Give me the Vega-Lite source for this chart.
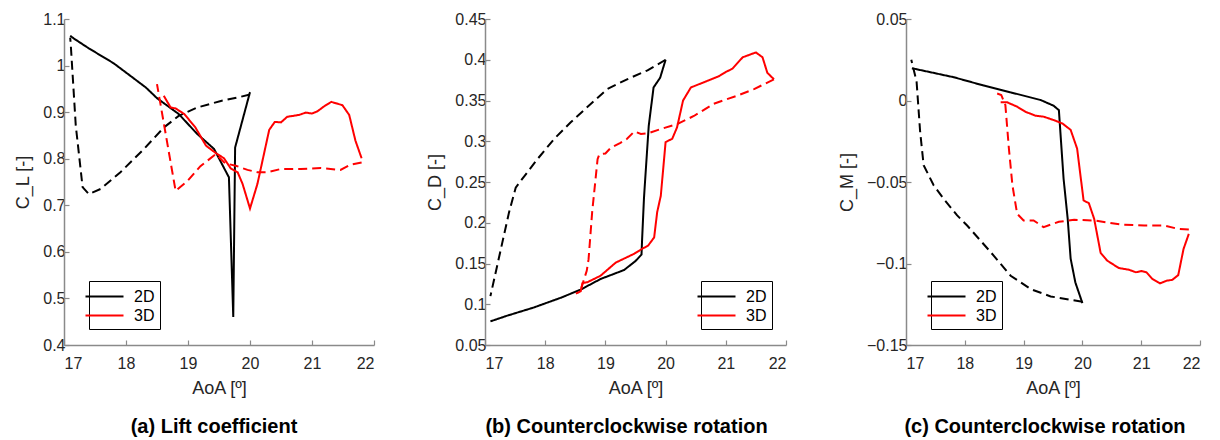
{
  "$schema": "https://vega.github.io/schema/vega-lite/v6.json",
  "background": "white",
  "padding": {"left": 14, "top": 11, "right": 5, "bottom": 0},
  "datasets": {
    "curves": [
      {"panel":"a","model":"2D","phase":"upstroke","idx":0,"aoa":17.1,"coef":1.064},
      {"panel":"a","model":"2D","phase":"upstroke","idx":1,"aoa":17.16,"coef":1.058},
      {"panel":"a","model":"2D","phase":"upstroke","idx":2,"aoa":17.4,"coef":1.037},
      {"panel":"a","model":"2D","phase":"upstroke","idx":3,"aoa":17.8,"coef":1.005},
      {"panel":"a","model":"2D","phase":"upstroke","idx":4,"aoa":18.05,"coef":0.98},
      {"panel":"a","model":"2D","phase":"upstroke","idx":5,"aoa":18.32,"coef":0.953},
      {"panel":"a","model":"2D","phase":"upstroke","idx":6,"aoa":18.5,"coef":0.93},
      {"panel":"a","model":"2D","phase":"upstroke","idx":7,"aoa":18.85,"coef":0.896},
      {"panel":"a","model":"2D","phase":"upstroke","idx":8,"aoa":19.15,"coef":0.853},
      {"panel":"a","model":"2D","phase":"upstroke","idx":9,"aoa":19.42,"coef":0.821},
      {"panel":"a","model":"2D","phase":"upstroke","idx":10,"aoa":19.66,"coef":0.76},
      {"panel":"a","model":"2D","phase":"upstroke","idx":11,"aoa":19.73,"coef":0.46},
      {"panel":"a","model":"2D","phase":"upstroke","idx":12,"aoa":19.76,"coef":0.824},
      {"panel":"a","model":"2D","phase":"upstroke","idx":13,"aoa":20.0,"coef":0.943},

      {"panel":"a","model":"2D","phase":"downstroke","idx":0,"aoa":20.0,"coef":0.938},
      {"panel":"a","model":"2D","phase":"downstroke","idx":1,"aoa":19.85,"coef":0.933},
      {"panel":"a","model":"2D","phase":"downstroke","idx":2,"aoa":19.53,"coef":0.924},
      {"panel":"a","model":"2D","phase":"downstroke","idx":3,"aoa":19.15,"coef":0.91},
      {"panel":"a","model":"2D","phase":"downstroke","idx":4,"aoa":18.85,"coef":0.892},
      {"panel":"a","model":"2D","phase":"downstroke","idx":5,"aoa":18.61,"coef":0.867},
      {"panel":"a","model":"2D","phase":"downstroke","idx":6,"aoa":18.29,"coef":0.821},
      {"panel":"a","model":"2D","phase":"downstroke","idx":7,"aoa":17.91,"coef":0.771},
      {"panel":"a","model":"2D","phase":"downstroke","idx":8,"aoa":17.59,"coef":0.735},
      {"panel":"a","model":"2D","phase":"downstroke","idx":9,"aoa":17.4,"coef":0.724},
      {"panel":"a","model":"2D","phase":"downstroke","idx":10,"aoa":17.3,"coef":0.739},
      {"panel":"a","model":"2D","phase":"downstroke","idx":11,"aoa":17.19,"coef":0.871},
      {"panel":"a","model":"2D","phase":"downstroke","idx":12,"aoa":17.11,"coef":1.043},
      {"panel":"a","model":"2D","phase":"downstroke","idx":13,"aoa":17.1,"coef":1.06},

      {"panel":"a","model":"3D","phase":"upstroke","idx":0,"aoa":18.61,"coef":0.935},
      {"panel":"a","model":"3D","phase":"upstroke","idx":1,"aoa":18.72,"coef":0.91},
      {"panel":"a","model":"3D","phase":"upstroke","idx":2,"aoa":18.8,"coef":0.908},
      {"panel":"a","model":"3D","phase":"upstroke","idx":3,"aoa":18.94,"coef":0.896},
      {"panel":"a","model":"3D","phase":"upstroke","idx":4,"aoa":19.12,"coef":0.867},
      {"panel":"a","model":"3D","phase":"upstroke","idx":5,"aoa":19.29,"coef":0.828},
      {"panel":"a","model":"3D","phase":"upstroke","idx":6,"aoa":19.45,"coef":0.812},
      {"panel":"a","model":"3D","phase":"upstroke","idx":7,"aoa":19.58,"coef":0.801},
      {"panel":"a","model":"3D","phase":"upstroke","idx":8,"aoa":19.69,"coef":0.779},
      {"panel":"a","model":"3D","phase":"upstroke","idx":9,"aoa":19.8,"coef":0.771},
      {"panel":"a","model":"3D","phase":"upstroke","idx":10,"aoa":19.88,"coef":0.746},
      {"panel":"a","model":"3D","phase":"upstroke","idx":11,"aoa":20.0,"coef":0.693},
      {"panel":"a","model":"3D","phase":"upstroke","idx":12,"aoa":20.12,"coef":0.746},
      {"panel":"a","model":"3D","phase":"upstroke","idx":13,"aoa":20.31,"coef":0.862},
      {"panel":"a","model":"3D","phase":"upstroke","idx":14,"aoa":20.4,"coef":0.879},
      {"panel":"a","model":"3D","phase":"upstroke","idx":15,"aoa":20.5,"coef":0.878},
      {"panel":"a","model":"3D","phase":"upstroke","idx":16,"aoa":20.6,"coef":0.89},
      {"panel":"a","model":"3D","phase":"upstroke","idx":17,"aoa":20.79,"coef":0.894},
      {"panel":"a","model":"3D","phase":"upstroke","idx":18,"aoa":20.9,"coef":0.899},
      {"panel":"a","model":"3D","phase":"upstroke","idx":19,"aoa":21.0,"coef":0.897},
      {"panel":"a","model":"3D","phase":"upstroke","idx":20,"aoa":21.09,"coef":0.902},
      {"panel":"a","model":"3D","phase":"upstroke","idx":21,"aoa":21.19,"coef":0.912},
      {"panel":"a","model":"3D","phase":"upstroke","idx":22,"aoa":21.31,"coef":0.922},
      {"panel":"a","model":"3D","phase":"upstroke","idx":23,"aoa":21.49,"coef":0.915},
      {"panel":"a","model":"3D","phase":"upstroke","idx":24,"aoa":21.6,"coef":0.894},
      {"panel":"a","model":"3D","phase":"upstroke","idx":25,"aoa":21.7,"coef":0.839},
      {"panel":"a","model":"3D","phase":"upstroke","idx":26,"aoa":21.8,"coef":0.801},

      {"panel":"a","model":"3D","phase":"downstroke","idx":0,"aoa":21.8,"coef":0.792},
      {"panel":"a","model":"3D","phase":"downstroke","idx":1,"aoa":21.62,"coef":0.787},
      {"panel":"a","model":"3D","phase":"downstroke","idx":2,"aoa":21.46,"coef":0.776},
      {"panel":"a","model":"3D","phase":"downstroke","idx":3,"aoa":21.14,"coef":0.78},
      {"panel":"a","model":"3D","phase":"downstroke","idx":4,"aoa":20.82,"coef":0.778},
      {"panel":"a","model":"3D","phase":"downstroke","idx":5,"aoa":20.5,"coef":0.778},
      {"panel":"a","model":"3D","phase":"downstroke","idx":6,"aoa":20.28,"coef":0.771},
      {"panel":"a","model":"3D","phase":"downstroke","idx":7,"aoa":20.12,"coef":0.771},
      {"panel":"a","model":"3D","phase":"downstroke","idx":8,"aoa":19.96,"coef":0.776},
      {"panel":"a","model":"3D","phase":"downstroke","idx":9,"aoa":19.77,"coef":0.785},
      {"panel":"a","model":"3D","phase":"downstroke","idx":10,"aoa":19.6,"coef":0.79},
      {"panel":"a","model":"3D","phase":"downstroke","idx":11,"aoa":19.45,"coef":0.81},
      {"panel":"a","model":"3D","phase":"downstroke","idx":12,"aoa":19.2,"coef":0.784},
      {"panel":"a","model":"3D","phase":"downstroke","idx":13,"aoa":18.99,"coef":0.752},
      {"panel":"a","model":"3D","phase":"downstroke","idx":14,"aoa":18.8,"coef":0.731},
      {"panel":"a","model":"3D","phase":"downstroke","idx":15,"aoa":18.5,"coef":0.96},

      {"panel":"b","model":"2D","phase":"upstroke","idx":0,"aoa":17.09,"coef":0.079},
      {"panel":"b","model":"2D","phase":"upstroke","idx":1,"aoa":17.37,"coef":0.086},
      {"panel":"b","model":"2D","phase":"upstroke","idx":2,"aoa":17.81,"coef":0.096},
      {"panel":"b","model":"2D","phase":"upstroke","idx":3,"aoa":18.26,"coef":0.108},
      {"panel":"b","model":"2D","phase":"upstroke","idx":4,"aoa":18.59,"coef":0.118},
      {"panel":"b","model":"2D","phase":"upstroke","idx":5,"aoa":18.92,"coef":0.131},
      {"panel":"b","model":"2D","phase":"upstroke","idx":6,"aoa":19.31,"coef":0.142},
      {"panel":"b","model":"2D","phase":"upstroke","idx":7,"aoa":19.5,"coef":0.153},
      {"panel":"b","model":"2D","phase":"upstroke","idx":8,"aoa":19.6,"coef":0.161},
      {"panel":"b","model":"2D","phase":"upstroke","idx":9,"aoa":19.61,"coef":0.18},
      {"panel":"b","model":"2D","phase":"upstroke","idx":10,"aoa":19.64,"coef":0.229},
      {"panel":"b","model":"2D","phase":"upstroke","idx":11,"aoa":19.65,"coef":0.241},
      {"panel":"b","model":"2D","phase":"upstroke","idx":12,"aoa":19.72,"coef":0.319},
      {"panel":"b","model":"2D","phase":"upstroke","idx":13,"aoa":19.8,"coef":0.366},
      {"panel":"b","model":"2D","phase":"upstroke","idx":14,"aoa":19.91,"coef":0.378},
      {"panel":"b","model":"2D","phase":"upstroke","idx":15,"aoa":20.0,"coef":0.4},

      {"panel":"b","model":"2D","phase":"downstroke","idx":0,"aoa":20.0,"coef":0.4},
      {"panel":"b","model":"2D","phase":"downstroke","idx":1,"aoa":19.7,"coef":0.387},
      {"panel":"b","model":"2D","phase":"downstroke","idx":2,"aoa":19.36,"coef":0.376},
      {"panel":"b","model":"2D","phase":"downstroke","idx":3,"aoa":19.03,"coef":0.364},
      {"panel":"b","model":"2D","phase":"downstroke","idx":4,"aoa":18.76,"coef":0.346},
      {"panel":"b","model":"2D","phase":"downstroke","idx":5,"aoa":18.42,"coef":0.323},
      {"panel":"b","model":"2D","phase":"downstroke","idx":6,"aoa":18.15,"coef":0.303},
      {"panel":"b","model":"2D","phase":"downstroke","idx":7,"aoa":17.87,"coef":0.278},
      {"panel":"b","model":"2D","phase":"downstroke","idx":8,"aoa":17.59,"coef":0.251},
      {"panel":"b","model":"2D","phase":"downstroke","idx":9,"aoa":17.51,"coef":0.243},
      {"panel":"b","model":"2D","phase":"downstroke","idx":10,"aoa":17.4,"coef":0.213},
      {"panel":"b","model":"2D","phase":"downstroke","idx":11,"aoa":17.09,"coef":0.11},

      {"panel":"b","model":"3D","phase":"upstroke","idx":0,"aoa":18.51,"coef":0.113},
      {"panel":"b","model":"3D","phase":"upstroke","idx":1,"aoa":18.59,"coef":0.116},
      {"panel":"b","model":"3D","phase":"upstroke","idx":2,"aoa":18.62,"coef":0.126},
      {"panel":"b","model":"3D","phase":"upstroke","idx":3,"aoa":18.7,"coef":0.127},
      {"panel":"b","model":"3D","phase":"upstroke","idx":4,"aoa":18.92,"coef":0.135},
      {"panel":"b","model":"3D","phase":"upstroke","idx":5,"aoa":19.17,"coef":0.151},
      {"panel":"b","model":"3D","phase":"upstroke","idx":6,"aoa":19.31,"coef":0.156},
      {"panel":"b","model":"3D","phase":"upstroke","idx":7,"aoa":19.48,"coef":0.162},
      {"panel":"b","model":"3D","phase":"upstroke","idx":8,"aoa":19.61,"coef":0.168},
      {"panel":"b","model":"3D","phase":"upstroke","idx":9,"aoa":19.71,"coef":0.172},
      {"panel":"b","model":"3D","phase":"upstroke","idx":10,"aoa":19.81,"coef":0.182},
      {"panel":"b","model":"3D","phase":"upstroke","idx":11,"aoa":19.86,"coef":0.213},
      {"panel":"b","model":"3D","phase":"upstroke","idx":12,"aoa":19.92,"coef":0.233},
      {"panel":"b","model":"3D","phase":"upstroke","idx":13,"aoa":20.0,"coef":0.299},
      {"panel":"b","model":"3D","phase":"upstroke","idx":14,"aoa":20.11,"coef":0.303},
      {"panel":"b","model":"3D","phase":"upstroke","idx":15,"aoa":20.19,"coef":0.317},
      {"panel":"b","model":"3D","phase":"upstroke","idx":16,"aoa":20.29,"coef":0.35},
      {"panel":"b","model":"3D","phase":"upstroke","idx":17,"aoa":20.42,"coef":0.366},
      {"panel":"b","model":"3D","phase":"upstroke","idx":18,"aoa":20.69,"coef":0.374},
      {"panel":"b","model":"3D","phase":"upstroke","idx":19,"aoa":20.89,"coef":0.38},
      {"panel":"b","model":"3D","phase":"upstroke","idx":20,"aoa":21.0,"coef":0.385},
      {"panel":"b","model":"3D","phase":"upstroke","idx":21,"aoa":21.11,"coef":0.389},
      {"panel":"b","model":"3D","phase":"upstroke","idx":22,"aoa":21.28,"coef":0.403},
      {"panel":"b","model":"3D","phase":"upstroke","idx":23,"aoa":21.5,"coef":0.409},
      {"panel":"b","model":"3D","phase":"upstroke","idx":24,"aoa":21.61,"coef":0.403},
      {"panel":"b","model":"3D","phase":"upstroke","idx":25,"aoa":21.69,"coef":0.384},
      {"panel":"b","model":"3D","phase":"upstroke","idx":26,"aoa":21.8,"coef":0.376},

      {"panel":"b","model":"3D","phase":"downstroke","idx":0,"aoa":21.8,"coef":0.376},
      {"panel":"b","model":"3D","phase":"downstroke","idx":1,"aoa":21.47,"coef":0.364},
      {"panel":"b","model":"3D","phase":"downstroke","idx":2,"aoa":21.19,"coef":0.356},
      {"panel":"b","model":"3D","phase":"downstroke","idx":3,"aoa":20.8,"coef":0.346},
      {"panel":"b","model":"3D","phase":"downstroke","idx":4,"aoa":20.47,"coef":0.331},
      {"panel":"b","model":"3D","phase":"downstroke","idx":5,"aoa":20.19,"coef":0.321},
      {"panel":"b","model":"3D","phase":"downstroke","idx":6,"aoa":19.92,"coef":0.315},
      {"panel":"b","model":"3D","phase":"downstroke","idx":7,"aoa":19.72,"coef":0.31},
      {"panel":"b","model":"3D","phase":"downstroke","idx":8,"aoa":19.59,"coef":0.309},
      {"panel":"b","model":"3D","phase":"downstroke","idx":9,"aoa":19.48,"coef":0.312},
      {"panel":"b","model":"3D","phase":"downstroke","idx":10,"aoa":19.36,"coef":0.303},
      {"panel":"b","model":"3D","phase":"downstroke","idx":11,"aoa":19.25,"coef":0.298},
      {"panel":"b","model":"3D","phase":"downstroke","idx":12,"aoa":19.09,"coef":0.292},
      {"panel":"b","model":"3D","phase":"downstroke","idx":13,"aoa":19.0,"coef":0.285},
      {"panel":"b","model":"3D","phase":"downstroke","idx":14,"aoa":18.9,"coef":0.284},
      {"panel":"b","model":"3D","phase":"downstroke","idx":15,"aoa":18.87,"coef":0.278},
      {"panel":"b","model":"3D","phase":"downstroke","idx":16,"aoa":18.78,"coef":0.213},
      {"panel":"b","model":"3D","phase":"downstroke","idx":17,"aoa":18.72,"coef":0.155},
      {"panel":"b","model":"3D","phase":"downstroke","idx":18,"aoa":18.69,"coef":0.141},
      {"panel":"b","model":"3D","phase":"downstroke","idx":19,"aoa":18.6,"coef":0.12},

      {"panel":"c","model":"2D","phase":"upstroke","idx":0,"aoa":17.1,"coef":0.0198},
      {"panel":"c","model":"2D","phase":"upstroke","idx":1,"aoa":17.81,"coef":0.0143},
      {"panel":"c","model":"2D","phase":"upstroke","idx":2,"aoa":18.32,"coef":0.0092},
      {"panel":"c","model":"2D","phase":"upstroke","idx":3,"aoa":18.78,"coef":0.005},
      {"panel":"c","model":"2D","phase":"upstroke","idx":4,"aoa":19.29,"coef":0.0003},
      {"panel":"c","model":"2D","phase":"upstroke","idx":5,"aoa":19.51,"coef":-0.0032},
      {"panel":"c","model":"2D","phase":"upstroke","idx":6,"aoa":19.6,"coef":-0.0059},
      {"panel":"c","model":"2D","phase":"upstroke","idx":7,"aoa":19.68,"coef":-0.048},
      {"panel":"c","model":"2D","phase":"upstroke","idx":8,"aoa":19.75,"coef":-0.0726},
      {"panel":"c","model":"2D","phase":"upstroke","idx":9,"aoa":19.8,"coef":-0.097},
      {"panel":"c","model":"2D","phase":"upstroke","idx":10,"aoa":19.88,"coef":-0.1116},
      {"panel":"c","model":"2D","phase":"upstroke","idx":11,"aoa":20.0,"coef":-0.1243},

      {"panel":"c","model":"2D","phase":"downstroke","idx":0,"aoa":20.0,"coef":-0.1235},
      {"panel":"c","model":"2D","phase":"downstroke","idx":1,"aoa":19.46,"coef":-0.1202},
      {"panel":"c","model":"2D","phase":"downstroke","idx":2,"aoa":19.12,"coef":-0.1157},
      {"panel":"c","model":"2D","phase":"downstroke","idx":3,"aoa":18.78,"coef":-0.1075},
      {"panel":"c","model":"2D","phase":"downstroke","idx":4,"aoa":18.44,"coef":-0.093},
      {"panel":"c","model":"2D","phase":"downstroke","idx":5,"aoa":18.04,"coef":-0.0767},
      {"panel":"c","model":"2D","phase":"downstroke","idx":6,"aoa":17.87,"coef":-0.0705},
      {"panel":"c","model":"2D","phase":"downstroke","idx":7,"aoa":17.64,"coef":-0.0603},
      {"panel":"c","model":"2D","phase":"downstroke","idx":8,"aoa":17.47,"coef":-0.052},
      {"panel":"c","model":"2D","phase":"downstroke","idx":9,"aoa":17.3,"coef":-0.0397},
      {"panel":"c","model":"2D","phase":"downstroke","idx":10,"aoa":17.24,"coef":-0.019},
      {"panel":"c","model":"2D","phase":"downstroke","idx":11,"aoa":17.18,"coef":0.0116},
      {"panel":"c","model":"2D","phase":"downstroke","idx":12,"aoa":17.09,"coef":0.025},

      {"panel":"c","model":"3D","phase":"upstroke","idx":0,"aoa":18.61,"coef":-0.0011},
      {"panel":"c","model":"3D","phase":"upstroke","idx":1,"aoa":18.72,"coef":-0.0011},
      {"panel":"c","model":"3D","phase":"upstroke","idx":2,"aoa":18.89,"coef":-0.0038},
      {"panel":"c","model":"3D","phase":"upstroke","idx":3,"aoa":19.03,"coef":-0.0069},
      {"panel":"c","model":"3D","phase":"upstroke","idx":4,"aoa":19.2,"coef":-0.0093},
      {"panel":"c","model":"3D","phase":"upstroke","idx":5,"aoa":19.34,"coef":-0.0099},
      {"panel":"c","model":"3D","phase":"upstroke","idx":6,"aoa":19.51,"coef":-0.012},
      {"panel":"c","model":"3D","phase":"upstroke","idx":7,"aoa":19.66,"coef":-0.0141},
      {"panel":"c","model":"3D","phase":"upstroke","idx":8,"aoa":19.8,"coef":-0.018},
      {"panel":"c","model":"3D","phase":"upstroke","idx":9,"aoa":19.91,"coef":-0.0295},
      {"panel":"c","model":"3D","phase":"upstroke","idx":10,"aoa":20.02,"coef":-0.0613},
      {"panel":"c","model":"3D","phase":"upstroke","idx":11,"aoa":20.11,"coef":-0.063},
      {"panel":"c","model":"3D","phase":"upstroke","idx":12,"aoa":20.2,"coef":-0.0726},
      {"panel":"c","model":"3D","phase":"upstroke","idx":13,"aoa":20.31,"coef":-0.0935},
      {"panel":"c","model":"3D","phase":"upstroke","idx":14,"aoa":20.42,"coef":-0.0982},
      {"panel":"c","model":"3D","phase":"upstroke","idx":15,"aoa":20.62,"coef":-0.1028},
      {"panel":"c","model":"3D","phase":"upstroke","idx":16,"aoa":20.79,"coef":-0.1038},
      {"panel":"c","model":"3D","phase":"upstroke","idx":17,"aoa":20.91,"coef":-0.1054},
      {"panel":"c","model":"3D","phase":"upstroke","idx":18,"aoa":21.0,"coef":-0.1046},
      {"panel":"c","model":"3D","phase":"upstroke","idx":19,"aoa":21.09,"coef":-0.1054},
      {"panel":"c","model":"3D","phase":"upstroke","idx":20,"aoa":21.19,"coef":-0.1095},
      {"panel":"c","model":"3D","phase":"upstroke","idx":21,"aoa":21.32,"coef":-0.1122},
      {"panel":"c","model":"3D","phase":"upstroke","idx":22,"aoa":21.43,"coef":-0.1106},
      {"panel":"c","model":"3D","phase":"upstroke","idx":23,"aoa":21.53,"coef":-0.11},
      {"panel":"c","model":"3D","phase":"upstroke","idx":24,"aoa":21.63,"coef":-0.1071},
      {"panel":"c","model":"3D","phase":"upstroke","idx":25,"aoa":21.72,"coef":-0.0911},
      {"panel":"c","model":"3D","phase":"upstroke","idx":26,"aoa":21.81,"coef":-0.0818},

      {"panel":"c","model":"3D","phase":"downstroke","idx":0,"aoa":21.81,"coef":-0.0792},
      {"panel":"c","model":"3D","phase":"downstroke","idx":1,"aoa":21.62,"coef":-0.0787},
      {"panel":"c","model":"3D","phase":"downstroke","idx":2,"aoa":21.39,"coef":-0.0767},
      {"panel":"c","model":"3D","phase":"downstroke","idx":3,"aoa":21.05,"coef":-0.0767},
      {"panel":"c","model":"3D","phase":"downstroke","idx":4,"aoa":20.65,"coef":-0.0761},
      {"panel":"c","model":"3D","phase":"downstroke","idx":5,"aoa":20.2,"coef":-0.0736},
      {"panel":"c","model":"3D","phase":"downstroke","idx":6,"aoa":19.86,"coef":-0.0732},
      {"panel":"c","model":"3D","phase":"downstroke","idx":7,"aoa":19.6,"coef":-0.0744},
      {"panel":"c","model":"3D","phase":"downstroke","idx":8,"aoa":19.34,"coef":-0.0777},
      {"panel":"c","model":"3D","phase":"downstroke","idx":9,"aoa":19.17,"coef":-0.0736},
      {"panel":"c","model":"3D","phase":"downstroke","idx":10,"aoa":19.0,"coef":-0.0736},
      {"panel":"c","model":"3D","phase":"downstroke","idx":11,"aoa":18.89,"coef":-0.0695},
      {"panel":"c","model":"3D","phase":"downstroke","idx":12,"aoa":18.81,"coef":-0.052},
      {"panel":"c","model":"3D","phase":"downstroke","idx":13,"aoa":18.75,"coef":-0.0295},
      {"panel":"c","model":"3D","phase":"downstroke","idx":14,"aoa":18.69,"coef":-0.0028},
      {"panel":"c","model":"3D","phase":"downstroke","idx":15,"aoa":18.62,"coef":0.0034},
      {"panel":"c","model":"3D","phase":"downstroke","idx":16,"aoa":18.49,"coef":0.005}
    ]
  },
  "config": {
    "view": {"stroke": null},
    "font": "Liberation Sans",
    "axis": {
      "labelFont": "Liberation Sans", "titleFont": "Liberation Sans",
      "labelFontSize": 16, "titleFontSize": 18, "titleFontWeight": "normal",
      "labelColor": "#262626", "titleColor": "#262626",
      "domainColor": "#8a8a8a", "tickColor": "#8a8a8a", "domainWidth": 1.5,
      "grid": false, "tickSize": -5, "tickWidth": 1.2
    },
    "axisX": {"labelPadding": 15, "titlePadding": 8},
    "axisY": {"labelPadding": 4, "titlePadding": 10},
    "legend": {
      "orient": "none", "title": null,
      "symbolType": "M-2,0H2", "symbolSize": 361, "symbolStrokeWidth": 2,
      "labelFont": "Liberation Sans", "labelFontSize": 16, "labelColor": "#000000",
      "strokeColor": "#000000", "fillColor": "#ffffff", "padding": 5, "rowPadding": 0,
      "labelOffset": 19
    },
    "title": {"font": "Liberation Sans", "fontSize": 20, "fontWeight": "bold", "orient": "bottom", "color": "#000000", "offset": 20, "anchor": "middle"},
    "concat": {"spacing": 51},
    "line": {"strokeWidth": 2}
  },
  "resolve": {"scale": {"color": "independent", "strokeDash": "independent", "y": "independent", "x": "independent"}, "legend": {"color": "independent"}},
  "hconcat": [
    {
      "width": 310, "height": 326,
      "title": {"text": "(a) Lift coefficient", "dx": -5},
      "data": {"name": "curves"},
      "transform": [{"filter": "datum.panel === 'a'"}],
      "mark": {"type": "line", "strokeWidth": 2},
      "encoding": {
        "x": {"field": "aoa", "type": "quantitative", "scale": {"domain": [17, 22], "nice": false, "zero": false}, "axis": {"title": "AoA [º]", "values": [17, 18, 19, 20, 21, 22]}},
        "y": {"field": "coef", "type": "quantitative", "scale": {"domain": [0.4, 1.1], "nice": false, "zero": false}, "axis": {"title": "C_L [-]", "values": [0.4, 0.5, 0.6, 0.7, 0.8, 0.9, 1.0, 1.1], "format": ".2~f"}},
        "color": {"field": "model", "type": "nominal", "scale": {"domain": ["2D", "3D"], "range": ["#000000", "#ff0000"]}, "legend": {"legendX": 25, "legendY": 262}},
        "strokeDash": {"field": "phase", "type": "nominal", "scale": {"domain": ["upstroke", "downstroke"], "range": [[1, 0], [9, 5]]}, "legend": null},
        "order": {"field": "idx", "type": "quantitative"}
      }
    },
    {
      "width": 301, "height": 326,
      "title": {"text": "(b) Counterclockwise rotation", "dx": -9},
      "data": {"name": "curves"},
      "transform": [{"filter": "datum.panel === 'b'"}],
      "mark": {"type": "line", "strokeWidth": 2},
      "encoding": {
        "x": {"field": "aoa", "type": "quantitative", "scale": {"domain": [17, 22], "nice": false, "zero": false}, "axis": {"title": "AoA [º]", "values": [17, 18, 19, 20, 21, 22]}},
        "y": {"field": "coef", "type": "quantitative", "scale": {"domain": [0.05, 0.45], "nice": false, "zero": false}, "axis": {"title": "C_D [-]", "values": [0.05, 0.1, 0.15, 0.2, 0.25, 0.3, 0.35, 0.4, 0.45], "format": ".2~f"}},
        "color": {"field": "model", "type": "nominal", "scale": {"domain": ["2D", "3D"], "range": ["#000000", "#ff0000"]}, "legend": {"legendX": 216, "legendY": 262}},
        "strokeDash": {"field": "phase", "type": "nominal", "scale": {"domain": ["upstroke", "downstroke"], "range": [[1, 0], [9, 5]]}, "legend": null},
        "order": {"field": "idx", "type": "quantitative"}
      }
    },
    {
      "width": 294, "height": 326,
      "title": {"text": "(c) Counterclockwise rotation", "dx": -8},
      "data": {"name": "curves"},
      "transform": [{"filter": "datum.panel === 'c'"}],
      "mark": {"type": "line", "strokeWidth": 2},
      "encoding": {
        "x": {"field": "aoa", "type": "quantitative", "scale": {"domain": [17, 22], "nice": false, "zero": false}, "axis": {"title": "AoA [º]", "values": [17, 18, 19, 20, 21, 22]}},
        "y": {"field": "coef", "type": "quantitative", "scale": {"domain": [-0.15, 0.05], "nice": false, "zero": false}, "axis": {"title": "C_M [-]", "values": [-0.15, -0.1, -0.05, 0, 0.05], "format": ".2~f"}},
        "color": {"field": "model", "type": "nominal", "scale": {"domain": ["2D", "3D"], "range": ["#000000", "#ff0000"]}, "legend": {"legendX": 25, "legendY": 262}},
        "strokeDash": {"field": "phase", "type": "nominal", "scale": {"domain": ["upstroke", "downstroke"], "range": [[1, 0], [9, 5]]}, "legend": null},
        "order": {"field": "idx", "type": "quantitative"}
      }
    }
  ]
}
